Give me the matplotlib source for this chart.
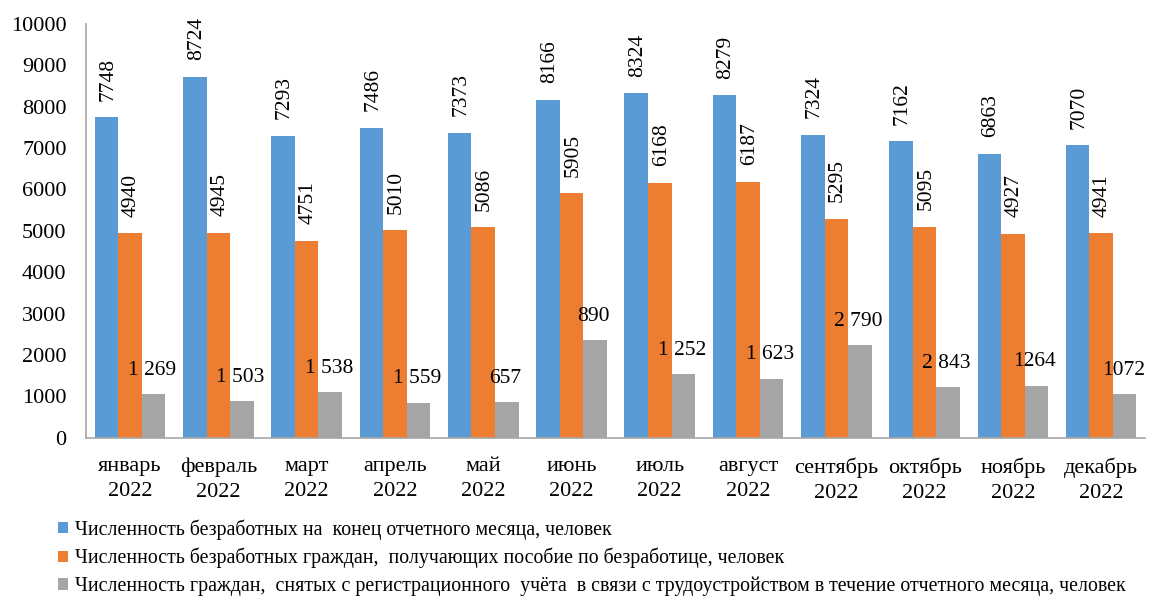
import numpy as np
import matplotlib
matplotlib.use("Agg")
import matplotlib.pyplot as plt

plt.rcParams['font.family'] = ['Liberation Serif', 'DejaVu Serif']

months = ['январь\n2022', 'февраль\n2022', 'март\n2022', 'апрель\n2022', 'май\n2022', 'июнь\n2022',
          'июль\n2022', 'август\n2022', 'сентябрь\n2022', 'октябрь\n2022', 'ноябрь\n2022', 'декабрь\n2022']
unemployed = [7748, 8724, 7293, 7486, 7373, 8166, 8324, 8279, 7324, 7162, 6863, 7070]
benefit = [4940, 4945, 4751, 5010, 5086, 5905, 6168, 6187, 5295, 5095, 4927, 4941]
# gray bars as drawn in the picture, labels as printed (they don't match the bars)
employed = [1050, 880, 1110, 850, 870, 2365, 1540, 1430, 2245, 1235, 1260, 1050]
employed_labels = ['1 269', '1 503', '1 538', '1 559', '657', '890', '1 252', '1 623',
                   '2 790', '2 843', '1264', '1072']
series_names = ['Численность безработных на  конец отчетного месяца, человек',
                'Численность безработных граждан,  получающих пособие по безработице, человек',
                'Численность граждан,  снятых с регистрационного  учёта  в связи с трудоустройством в течение отчетного месяца, человек']
colors = ['#5B9BD5', '#ED7D31', '#A5A5A5']

fig = plt.figure(figsize=(11.51, 5.97), dpi=100)
ax = fig.add_axes([0.0747, 0.2668, 0.9203, 0.693])

x = np.arange(len(months))
w = 0.8 / 3
b1 = ax.bar(x - w, unemployed, w, color=colors[0], label=series_names[0])
b2 = ax.bar(x, benefit, w, color=colors[1], label=series_names[1])
b3 = ax.bar(x + w, employed, w, color=colors[2], label=series_names[2])

for bars, vals in [(b1, unemployed), (b2, benefit)]:
    for r, v in zip(bars, vals):
        ax.annotate(str(v), (r.get_x() + r.get_width() / 2, r.get_height()),
                    xytext=(1, 12), textcoords='offset points', rotation=90,
                    ha='center', va='bottom', fontsize=15.5)

for r, lab in zip(b3, employed_labels):
    ax.annotate(lab, (r.get_x() + r.get_width() / 2, r.get_height()),
                xytext=(-1, 17), textcoords='offset points',
                ha='center', va='center', fontsize=15.5)

ax.set_xlim(-0.5, 11.5)
ax.set_ylim(0, 10000)
ax.set_yticks(np.arange(0, 10001, 1000))
ax.set_xticks(x)
ax.set_xticklabels(months, fontsize=16, linespacing=1.45)
ax.tick_params(axis='y', length=0, pad=14, labelsize=16)
ax.tick_params(axis='x', length=0, pad=14)
for s in ['top', 'right']:
    ax.spines[s].set_visible(False)
for s in ['left', 'bottom']:
    ax.spines[s].set_color('#A6A6A6')
    ax.spines[s].set_linewidth(1.2)

ax.legend(loc='upper left', bbox_to_anchor=(58 / 1151, 1 - 519 / 597),
          bbox_transform=fig.transFigure, frameon=False, fontsize=14.3,
          handlelength=0.5, handleheight=0.5, handletextpad=0.35,
          labelspacing=0.42, borderpad=0, borderaxespad=0)

fig.savefig('out.png', dpi=100)
